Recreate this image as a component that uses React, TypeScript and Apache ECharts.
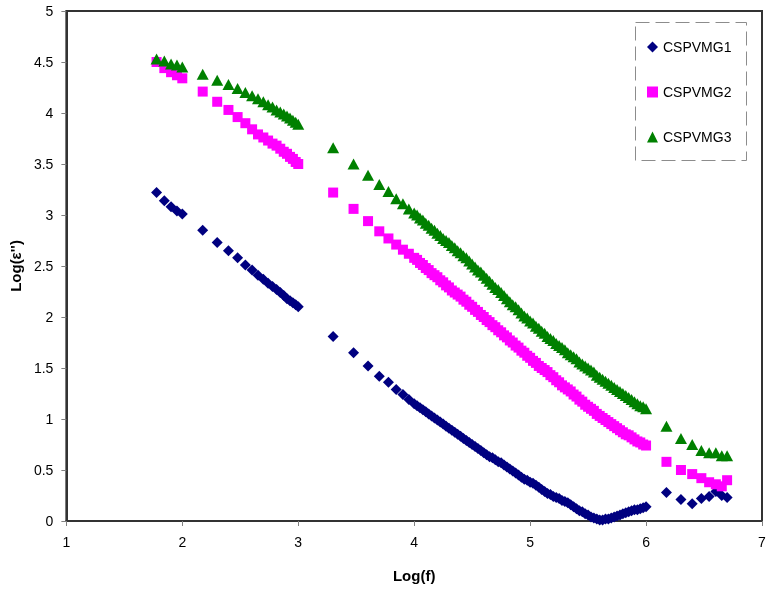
import React, { useEffect, useRef } from "react";
import * as echarts from "echarts";

// Log(f) positions of the measured points
const logF: number[] = [
  1.778, 1.845, 1.903, 1.954, 2.0,
  2.176, 2.301, 2.398, 2.477, 2.544, 2.602, 2.653, 2.699, 2.74, 2.778, 2.813, 2.845, 2.875, 2.903, 2.929, 2.954, 2.978, 3.0,
  3.301, 3.477, 3.602, 3.699, 3.778, 3.845, 3.903, 3.954, 4.0,
  4.025, 4.05, 4.075, 4.1, 4.125, 4.15, 4.175, 4.2, 4.225, 4.25,
  4.275, 4.3, 4.325, 4.35, 4.375, 4.4, 4.425, 4.45, 4.475, 4.5,
  4.525, 4.55, 4.575, 4.6, 4.625, 4.65, 4.675, 4.7, 4.725, 4.75,
  4.775, 4.8, 4.825, 4.85, 4.875, 4.9, 4.925, 4.95, 4.975, 5.0,
  5.025, 5.05, 5.075, 5.1, 5.125, 5.15, 5.175, 5.2, 5.225, 5.25,
  5.275, 5.3, 5.325, 5.35, 5.375, 5.4, 5.425, 5.45, 5.475, 5.5,
  5.525, 5.55, 5.575, 5.6, 5.625, 5.65, 5.675, 5.7, 5.725, 5.75,
  5.775, 5.8, 5.825, 5.85, 5.875, 5.9, 5.925, 5.95, 5.975, 6.0,
  6.176, 6.301, 6.398, 6.477, 6.544, 6.602, 6.653, 6.699,
];

const cspvmg1: number[] = [
  3.22, 3.14, 3.08, 3.04, 3.01,
  2.85, 2.73, 2.65, 2.58, 2.51, 2.46, 2.41, 2.37, 2.33, 2.3, 2.27, 2.24, 2.21, 2.18, 2.16, 2.14, 2.12, 2.1,
  1.81, 1.65, 1.52, 1.42, 1.36, 1.29, 1.24, 1.19, 1.15,
  1.13, 1.11, 1.09, 1.07, 1.05, 1.03, 1.01, 0.99, 0.97, 0.95,
  0.93, 0.91, 0.89, 0.87, 0.85, 0.83, 0.81, 0.79, 0.77, 0.75,
  0.73, 0.71, 0.69, 0.67, 0.65, 0.63, 0.62, 0.6, 0.58, 0.57,
  0.55, 0.53, 0.51, 0.49, 0.47, 0.45, 0.43, 0.41, 0.4, 0.38,
  0.37, 0.35, 0.33, 0.31, 0.29, 0.27, 0.26, 0.24, 0.23, 0.22,
  0.2, 0.19, 0.18, 0.16, 0.14, 0.12, 0.1, 0.09, 0.07, 0.06,
  0.04, 0.03, 0.02, 0.01, 0.01, 0.02, 0.02, 0.03, 0.04, 0.05,
  0.06, 0.07, 0.08, 0.09, 0.1, 0.11, 0.11, 0.12, 0.13, 0.14,
  0.28, 0.21, 0.17, 0.22, 0.24, 0.29, 0.25, 0.23,
];

const cspvmg2: number[] = [
  4.5, 4.44, 4.4, 4.37, 4.34,
  4.21, 4.11, 4.03, 3.96, 3.9, 3.84, 3.79, 3.76, 3.73, 3.7, 3.68, 3.65, 3.62, 3.6, 3.57, 3.55, 3.52, 3.5,
  3.22, 3.06, 2.94, 2.84, 2.77, 2.71, 2.66, 2.62, 2.58,
  2.56, 2.53, 2.51, 2.48, 2.46, 2.43, 2.41, 2.39, 2.36, 2.34,
  2.31, 2.29, 2.26, 2.24, 2.22, 2.2, 2.17, 2.15, 2.12, 2.1,
  2.07, 2.05, 2.02, 2.0, 1.97, 1.95, 1.92, 1.9, 1.87, 1.85,
  1.82, 1.8, 1.77, 1.75, 1.72, 1.7, 1.67, 1.65, 1.62, 1.6,
  1.57, 1.55, 1.52, 1.5, 1.48, 1.46, 1.43, 1.41, 1.38, 1.36,
  1.33, 1.31, 1.29, 1.27, 1.24, 1.22, 1.19, 1.17, 1.14, 1.12,
  1.1, 1.08, 1.05, 1.03, 1.01, 0.99, 0.97, 0.95, 0.93, 0.91,
  0.89, 0.87, 0.85, 0.84, 0.82, 0.8, 0.78, 0.77, 0.75, 0.74,
  0.58, 0.5, 0.46, 0.42, 0.38, 0.36, 0.34, 0.4,
];

const cspvmg3: number[] = [
  4.53, 4.51, 4.48, 4.47, 4.45,
  4.38, 4.32, 4.28, 4.24, 4.2, 4.17, 4.14, 4.11, 4.08, 4.06, 4.03, 4.01, 3.99, 3.97, 3.95, 3.93, 3.91, 3.89,
  3.66, 3.5, 3.39, 3.3, 3.23, 3.16, 3.11, 3.06, 3.02,
  3.0, 2.97, 2.95, 2.92, 2.9, 2.87, 2.85, 2.82, 2.8, 2.77,
  2.75, 2.73, 2.7, 2.68, 2.65, 2.63, 2.6, 2.58, 2.55, 2.52,
  2.49, 2.46, 2.44, 2.41, 2.38, 2.35, 2.32, 2.29, 2.27, 2.24,
  2.21, 2.18, 2.15, 2.12, 2.1, 2.07, 2.04, 2.01, 1.99, 1.96,
  1.94, 1.91, 1.89, 1.86, 1.84, 1.81, 1.79, 1.77, 1.74, 1.72,
  1.7, 1.68, 1.65, 1.63, 1.61, 1.59, 1.56, 1.54, 1.52, 1.5,
  1.48, 1.46, 1.43, 1.41, 1.39, 1.37, 1.35, 1.33, 1.31, 1.29,
  1.27, 1.25, 1.23, 1.21, 1.19, 1.17, 1.15, 1.13, 1.12, 1.1,
  0.93, 0.81, 0.75, 0.69, 0.67, 0.67, 0.64, 0.64,
];

const seriesNames = ["CSPVMG1", "CSPVMG2", "CSPVMG3"];
const xTitle = "Log(f)";
const yTitle = "Log(ε'')";
const X_MIN = 1, X_MAX = 7, Y_MIN = 0, Y_MAX = 5;

const FONT = "'Liberation Sans', Arial, sans-serif";
const FRAME = "#333333";

export default function App() {
  const ref = useRef<HTMLDivElement>(null);

  useEffect(() => {
    if (!ref.current) return;
    const chart = echarts.init(ref.current, undefined, { renderer: "svg" });
    const zip = (ys: number[]) => logF.map((x, i) => [x, ys[i]]);

    chart.setOption({
      animation: false,
      grid: {
        left: 66,
        right: 12,
        top: 11,
        bottom: 70,
        show: true,
        borderColor: FRAME,
        borderWidth: 2,
      },
      legend: {
        orient: "vertical",
        left: 642,
        top: 34,
        itemWidth: 11,
        itemHeight: 11,
        itemGap: 29,
        textStyle: { fontFamily: FONT, fontSize: 14, color: "#000000", lineHeight: 16 },
        data: [
          { name: seriesNames[0], icon: "diamond" },
          { name: seriesNames[1], icon: "rect" },
          { name: seriesNames[2], icon: "triangle" },
        ],
      },
      xAxis: {
        type: "value",
        min: X_MIN,
        max: X_MAX,
        interval: 1,
        name: xTitle,
        nameLocation: "middle",
        nameGap: 47,
        nameTextStyle: { fontFamily: FONT, fontSize: 15, fontWeight: "bold", color: "#000000" },
        axisLine: { show: true, onZero: false, lineStyle: { color: FRAME, width: 2 } },
        axisTick: { show: true, inside: false, length: 5, lineStyle: { color: "#808080" } },
        axisLabel: { fontFamily: FONT, fontSize: 14, color: "#000000", margin: 14 },
        splitLine: { show: false },
      },
      yAxis: {
        type: "value",
        min: Y_MIN,
        max: Y_MAX,
        interval: 0.5,
        name: yTitle,
        nameLocation: "middle",
        nameRotate: 90,
        nameGap: 40,
        nameTextStyle: { fontFamily: FONT, fontSize: 15, fontWeight: "bold", color: "#000000" },
        axisLine: { show: true, onZero: false, lineStyle: { color: FRAME, width: 2 } },
        axisTick: { show: true, inside: false, length: 5, lineStyle: { color: "#808080" } },
        axisLabel: { fontFamily: FONT, fontSize: 14, color: "#000000", margin: 13 },
        splitLine: { show: false },
      },
      graphic: [
        {
          type: "rect",
          left: 635,
          top: 22,
          shape: { width: 111, height: 138 },
          style: { fill: "transparent", stroke: "#8c8c8c", lineWidth: 1, lineDash: [14, 6] },
          z: 10,
          silent: true,
        },
      ],
      series: [
        {
          name: seriesNames[0],
          type: "scatter",
          symbol: "diamond",
          symbolSize: 11,
          clip: false,
          itemStyle: { color: "#000080", opacity: 1 },
          data: zip(cspvmg1),
        },
        {
          name: seriesNames[1],
          type: "scatter",
          symbol: "rect",
          symbolSize: 10,
          clip: false,
          itemStyle: { color: "#ff00ff", opacity: 1 },
          data: zip(cspvmg2),
        },
        {
          name: seriesNames[2],
          type: "scatter",
          symbol: "triangle",
          symbolSize: [12, 11],
          clip: false,
          itemStyle: { color: "#008000", opacity: 1 },
          data: zip(cspvmg3),
        },
      ],
    });

    return () => chart.dispose();
  }, []);

  return <div ref={ref} style={{ position: "fixed", left: 0, top: 0, width: 774, height: 591 }} />;
}
